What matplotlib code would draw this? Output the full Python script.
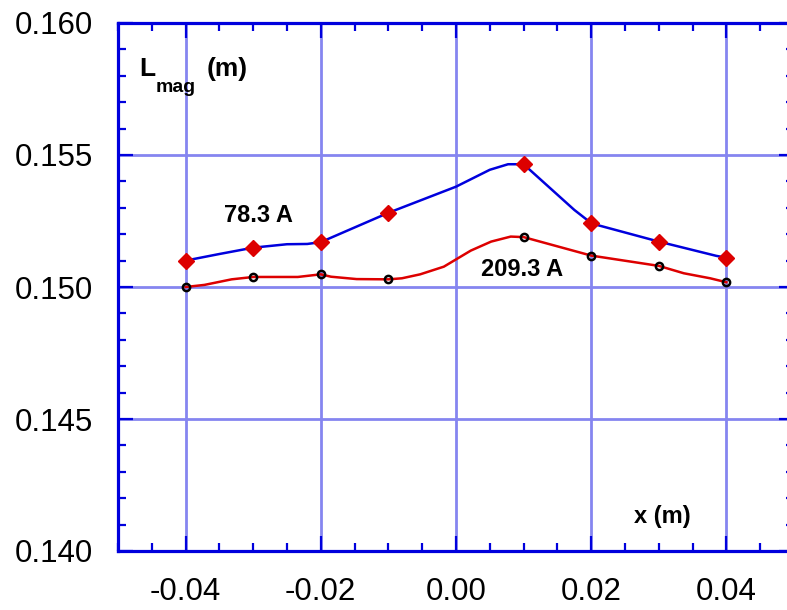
import numpy as np
import matplotlib
matplotlib.use('Agg')
import matplotlib.pyplot as plt
from matplotlib.ticker import MultipleLocator

## ========= data ========================

# measured points (x in m, L_mag in m)
x_pts = [-0.04, -0.03, -0.02, -0.01, 0.01, 0.02, 0.03, 0.04]
L_low = [0.15100, 0.15149, 0.15170, 0.15281, 0.15465, 0.15241, 0.15172, 0.15111]   # 78.3 A
L_high = [0.15000, 0.15038, 0.15048, 0.15029, 0.15189, 0.15119, 0.15080, 0.15018]  # 209.3 A

# traced curves between the measured points
x_low_line = [-0.04, -0.035, -0.03, -0.025, -0.022, -0.02, -0.01, 0.0, 0.005, 0.0077,
              0.01, 0.0175, 0.0194, 0.02, 0.03, 0.0385, 0.04]
y_low_line = [0.15100, 0.15125, 0.15149, 0.15162, 0.15163, 0.15170, 0.15281, 0.15380, 0.15444, 0.15465,
              0.15465, 0.15292, 0.15254, 0.15241, 0.15172, 0.15118, 0.15111]

x_high_line = [-0.04, -0.0372, -0.0332, -0.03, -0.0234, -0.02, -0.0185, -0.0147, -0.01, -0.008,
               -0.0053, -0.0018, 0.0022, 0.0052, 0.0081, 0.01, 0.02, 0.03, 0.0337, 0.0376, 0.04]
y_high_line = [0.15000, 0.15008, 0.15029, 0.15038, 0.15038, 0.15048, 0.15039, 0.15030, 0.15029, 0.15033,
               0.15048, 0.15077, 0.15138, 0.15172, 0.15191, 0.15189, 0.15119, 0.15080, 0.15052, 0.15033, 0.15018]

x_ticks = [-0.04, -0.02, 0.00, 0.02, 0.04]
y_ticks = [0.140, 0.145, 0.150, 0.155, 0.160]

## ========= plot ========================

AX_BLUE = '#0000dd'
GRID_BLUE = '#8585f0'
lbl_font = ['Liberation Sans', 'DejaVu Sans']

W, H = 787, 610
fig = plt.figure(figsize=(W / 100, H / 100), dpi=100)
ax = fig.add_axes([118 / W, (H - 551) / H, (794 - 118) / W, (551 - 23) / H])

ax.set_xlim(-0.05, 0.05)
ax.set_ylim(0.140, 0.160)
ax.set_xticks(x_ticks)
ax.set_yticks(y_ticks)
ax.set_xticklabels(['{:.2f}'.format(v) for v in x_ticks])
ax.set_yticklabels(['{:.3f}'.format(v) for v in y_ticks])
ax.xaxis.set_minor_locator(MultipleLocator(0.005))
ax.yaxis.set_minor_locator(MultipleLocator(0.001))

ax.grid(True, which='major', color=GRID_BLUE, lw=2.0, zorder=0)
ax.set_axisbelow(True)

for s in ax.spines.values():
    s.set_color(AX_BLUE)
    s.set_linewidth(2.3)

ax.tick_params(which='both', direction='in', top=True, right=True, color=AX_BLUE, width=1.6)
ax.tick_params(which='major', length=11)
ax.tick_params(which='minor', length=6)
ax.tick_params(axis='x', which='major', pad=19, labelsize=22.5)
ax.tick_params(axis='y', which='major', pad=18, labelsize=22.5)
for t in ax.get_xticklabels() + ax.get_yticklabels():
    t.set_fontfamily('Liberation Sans')

ax.plot(x_low_line, y_low_line, color=AX_BLUE, lw=1.8, zorder=3)
ax.plot(x_high_line, y_high_line, color='#dd0000', lw=1.8, zorder=3)
ax.plot(x_pts, L_low, ls='none', marker='D', ms=8, color='#dd0000', mec='#dd0000', zorder=4)
ax.plot(x_pts, L_high, ls='none', marker='o', ms=5.2, mfc='none', mec='black', mew=1.8, zorder=4)

ax.text(-0.02927, 0.15269, '78.3 A', ha='center', va='center', fontsize=17, fontweight='bold', family=lbl_font)
ax.text(0.00982, 0.15068, '209.3 A', ha='center', va='center', fontsize=17, fontweight='bold', family=lbl_font)
ax.text(0.03055, 0.14129, 'x (m)', ha='center', va='center', fontsize=17, fontweight='bold', family=lbl_font)

# y axis title: L with "mag" subscript
ax.text(-0.04679, 0.15799, 'L', ha='left', va='baseline', fontsize=19, fontweight='bold', family=lbl_font)
ax.text(-0.04443, 0.15738, 'mag', ha='left', va='baseline', fontsize=14, fontweight='bold', family=lbl_font)
ax.text(-0.03690, 0.15799, '(m)', ha='left', va='baseline', fontsize=19, fontweight='bold', family=lbl_font)

fig.savefig('out.png', dpi=100)
